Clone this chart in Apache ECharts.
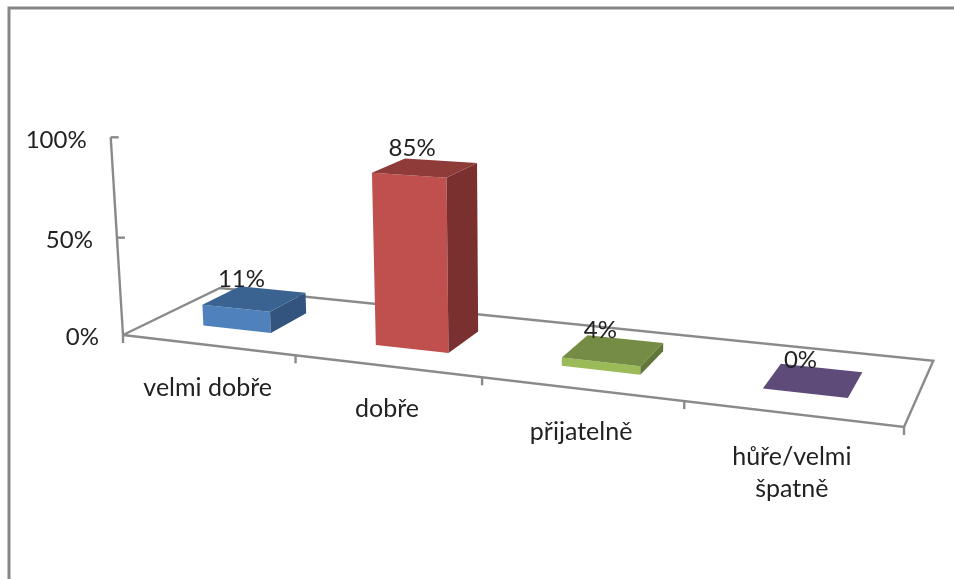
<!DOCTYPE html>
<html>
<head>
<meta charset="utf-8">
<style>html,body{margin:0;padding:0;background:#fff}#c{width:954px;height:579px}</style>
<script src="https://cdn.jsdelivr.net/npm/echarts@6/dist/echarts.min.js"></script>
</head>
<body>
<div id="c"></div>
<script>
const categories = ['velmi dobře', 'dobře', 'přijatelně', 'hůře/velmi\nšpatně'];
const values = [11, 85, 4, 0];
const valueTicks = [0, 50, 100];
const faceColors = [
  { front: '#4f81bd', top: '#3b6391', side: '#33547e' },
  { front: '#c0504d', top: '#8f3b39', side: '#7a302e' },
  { front: '#9bbb59', top: '#748c43', side: '#627639' },
  { front: '#8064a2', top: '#5f4b79', side: '#513f67' }
];

const W = 954, H = 579;
const FONT = 'Lato, Carlito, Calibri, sans-serif';
const AXIS = '#8a8a8a', TEXT = '#222222';

/* Projection of the chart's unit box onto the picture: s along categories, t into depth, h up. */
const Q = { a: [123, 335], b: [904, 427], c: [933.3, 360.7], d: [220, 288], top: [110.7, 137.3] };
const G3 = -0.03, WARP = 0.036;
const dx1 = Q.b[0] - Q.c[0], dx2 = Q.d[0] - Q.c[0], sx = Q.a[0] - Q.b[0] + Q.c[0] - Q.d[0];
const dy1 = Q.b[1] - Q.c[1], dy2 = Q.d[1] - Q.c[1], sy = Q.a[1] - Q.b[1] + Q.c[1] - Q.d[1];
const den = dx1 * dy2 - dx2 * dy1;
const g1 = (sx * dy2 - dx2 * sy) / den, g2 = (dx1 * sy - sx * dy1) / den;
const a1 = Q.b[0] - Q.a[0] + g1 * Q.b[0], a2 = Q.d[0] - Q.a[0] + g2 * Q.d[0], a4 = Q.a[0];
const b1 = Q.b[1] - Q.a[1] + g1 * Q.b[1], b2 = Q.d[1] - Q.a[1] + g2 * Q.d[1], b4 = Q.a[1];
const a3 = Q.top[0] * (1 + G3) - a4, b3 = Q.top[1] * (1 + G3) - b4;
function project(s0, t, h) {
  const s = s0 + WARP * s0 * (1 - s0);
  const w = g1 * s + g2 * t + G3 * h + 1;
  return [(a1 * s + a2 * t + a3 * h + a4) / w, (b1 * s + b2 * t + b3 * h + b4) / w];
}
/* The hidden grid fills the page, so the axes' pixel output divided by the page size is the scale's 0..1 result. */
const toS = x => x / W;
const toH = y => 1 - y / H;

const T0 = 0.3, T1 = 0.7, BAR = 0.4;

function renderBar(params, api) {
  const i = api.value(0), v = api.value(1);
  const c = api.coord([i, v]);
  const band = api.size([1, 0])[0];
  const s0 = toS(c[0] - band * BAR / 2), s1 = toS(c[0] + band * BAR / 2), h = toH(c[1]);
  const col = faceColors[i];
  const poly = (pts, fill) => ({ type: 'polygon', shape: { points: pts }, style: { fill } });
  const fbl = project(s0, T0, 0), fbr = project(s1, T0, 0), bbr = project(s1, T1, 0);
  const ftl = project(s0, T0, h), ftr = project(s1, T0, h), btr = project(s1, T1, h), btl = project(s0, T1, h);
  const cx = (ftl[0] + ftr[0] + btr[0] + btl[0]) / 4, cy = (ftl[1] + ftr[1] + btr[1] + btl[1]) / 4;
  return { type: 'group', children: [
    poly([fbl, fbr, ftr, ftl], col.front),
    poly([fbr, bbr, btr, ftr], col.side),
    poly([ftl, ftr, btr, btl], col.top),
    { type: 'text', z2: 10, style: { text: v + '%', x: cx - 13, y: cy - 20, align: 'center', verticalAlign: 'middle',
      fontFamily: FONT, fontSize: 24, fill: TEXT } }
  ] };
}

function renderFrame(params, api) {
  const line = pts => ({ type: 'polyline', shape: { points: pts }, style: { stroke: AXIS, lineWidth: 2.4, fill: null } });
  const kids = [];
  kids.push(line([project(0, 0, 0), project(1, 0, 0), project(1, 1, 0), project(0, 1, 0), project(0, 0, 0)]));
  const base = api.coord([0, 0]), band = api.size([1, 0])[0];
  const start = base[0] - band / 2;
  for (let k = 0; k <= categories.length; k++) {
    const p = project(toS(start + k * band), 0, 0);
    kids.push(line([p, [p[0], p[1] + 8]]));
  }
  categories.forEach((name, i) => {
    const p = project(toS(start + (i + 0.5) * band), 0, 0);
    kids.push({ type: 'text', style: { text: name, x: p[0], y: p[1] + 27, align: 'center', verticalAlign: 'top',
      fontFamily: FONT, fontSize: 25, lineHeight: 32, fill: TEXT } });
  });
  kids.push(line([project(0, 0, 0), project(0, 0, 1)]));
  valueTicks.forEach(t => {
    const h = toH(api.coord([0, t])[1]);
    const p = project(0, 0, h);
    if (t > 0) kids.push(line([p, [p[0] + 8, p[1]]]));
    kids.push({ type: 'text', style: { text: t + '%', x: p[0] - 24, y: p[1] + 2.5, align: 'right', verticalAlign: 'middle',
      fontFamily: FONT, fontSize: 24, fill: TEXT } });
  });
  return { type: 'group', children: kids };
}

const chart = echarts.init(document.getElementById('c'), null, { renderer: 'canvas', width: W, height: H });
chart.setOption({
  animation: false,
  backgroundColor: '#ffffff',
  grid: { left: 0, right: 0, top: 0, bottom: 0 },
  xAxis: { type: 'category', data: categories, show: false },
  yAxis: { type: 'value', min: 0, max: 100, interval: 50, show: false },
  graphic: [
    { type: 'polyline', z: -1, shape: { points: [[9, H], [9, 8], [W, 8]] }, style: { stroke: '#868686', lineWidth: 3, fill: null } }
  ],
  series: [
    { type: 'custom', name: 'frame', coordinateSystem: 'cartesian2d', clip: false, silent: true, z: 1,
      data: [[0, 0]], renderItem: renderFrame },
    { type: 'custom', name: 'share', coordinateSystem: 'cartesian2d', clip: false, z: 2,
      data: values.map((v, i) => [i, v]), renderItem: renderBar, encode: { x: 0, y: 1 } }
  ]
});
</script>
</body>
</html>
